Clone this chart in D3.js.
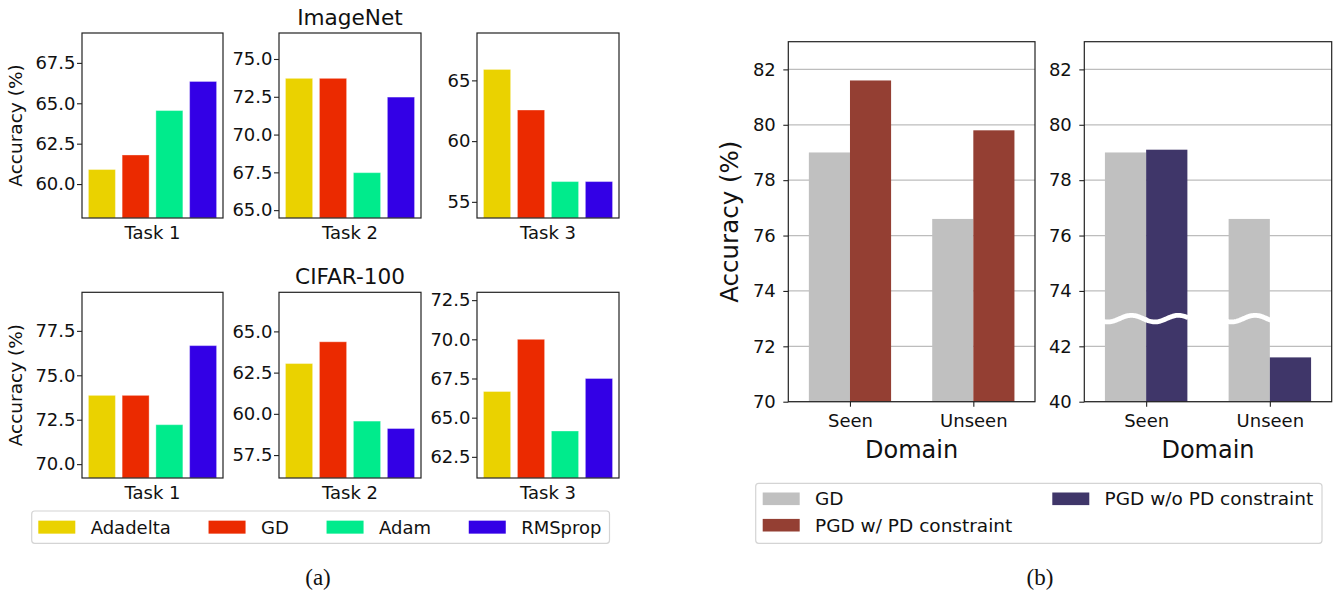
<!DOCTYPE html>
<html><head><meta charset="utf-8">
<script src="https://cdn.jsdelivr.net/npm/d3@7"></script>
<style>body{margin:0;background:#fff} svg{display:block} text{font-family:"DejaVu Sans",sans-serif;fill:#111}</style>
</head><body><svg id="c" width="1343" height="597"></svg>
<script>
// ---------- data (a) ----------
const optimizers = ["Adadelta","GD","Adam","RMSprop"];
const optColors = ["#EAD200","#EB2A00","#00EB8C","#3300E6"];
const tasks = ["Task 1","Task 2","Task 3"];
const datasets = ["ImageNet","CIFAR-100"];
const imagenetAcc = [[60.9,61.8,64.55,66.35],[73.72,73.72,67.48,72.48],[65.9,62.56,56.67,56.67]];
const cifarAcc = [[73.87,73.87,72.22,76.67],[63.05,64.37,59.56,59.11],[66.67,70.0,64.15,67.5]];
const imagenetTicks = [[60,62.5,65,67.5],[65,67.5,70,72.5,75],[55,60,65]];
const cifarTicks = [[70,72.5,75,77.5],[57.5,60,62.5,65],[62.5,65,67.5,70,72.5]];
const imagenetTickFmt = [".1f",".1f","d"];
const cifarTickFmt = [".1f",".1f",".1f"];
// ---------- data (b) ----------
const domains = ["Seen","Unseen"];
const methods = ["GD","PGD w/ PD constraint","PGD w/o PD constraint"];
const methodColors = ["#c0c0c0","#943f33","#3f3669"];
const gdAcc = [79.0, 76.6];
const pgdWithAcc = [81.6, 79.8];
const pgdWithoutAcc = [79.1, 41.6];
const panel1Ticks = [70,72,74,76,78,80,82];
const panel2Ticks = [40,42,74,76,78,80,82];

const svg = d3.select("#c");

// ---------- layout ----------
const colX = [[82,223],[279,421],[477,619]];
const rowY = [[33,218],[292.3,478]];

function smallPanel(x0,x1,y0,y1,vals,ticks,fmt,label){
  const g = svg.append("g");
  const x = d3.scaleLinear([-0.59,3.59],[x0,x1]);
  const y = d3.scaleLinear([d3.min(vals)-3, d3.max(vals)+3],[y1,y0]);
  g.selectAll("rect.bar").data(vals).join("rect")
    .attr("x",(d,i)=>x(i-0.4)).attr("width",x(0.4)-x(-0.4))
    .attr("y",d=>y(d)).attr("height",d=>y1-y(d))
    .attr("fill",(d,i)=>optColors[i])
    .attr("stroke","#fff").attr("stroke-opacity",0.35).attr("stroke-width",1);
  const ax = g.append("g").attr("transform",`translate(${x0},0)`)
    .call(d3.axisLeft(y).tickValues(ticks).tickFormat(d3.format(fmt)).tickSize(5).tickPadding(1.5));
  ax.select(".domain").remove();
  ax.selectAll("line").attr("stroke","#222").attr("stroke-width",1.1);
  ax.selectAll("text").style("font-size","18px").attr("fill","#111");
  g.append("rect").attr("x",x0).attr("y",y0).attr("width",x1-x0).attr("height",y1-y0)
    .attr("fill","none").attr("stroke","#222").attr("stroke-width",1.2);
  g.append("text").attr("x",(x0+x1)/2).attr("y",y1+20.5).attr("text-anchor","middle")
    .style("font-size","18px").text(label);
}

[imagenetAcc, cifarAcc].forEach((acc,r)=>{
  const tk = r===0?imagenetTicks:cifarTicks;
  const fm = r===0?imagenetTickFmt:cifarTickFmt;
  tasks.forEach((t,c)=>{
    smallPanel(colX[c][0],colX[c][1],rowY[r][0],rowY[r][1],acc[c],tk[c],fm[c],t);
  });
  svg.append("text").attr("x",(colX[1][0]+colX[1][1])/2).attr("y",rowY[r][0]-8.5)
    .attr("text-anchor","middle").style("font-size","21.6px").text(datasets[r]);
  svg.append("text").attr("transform",`translate(22,${(rowY[r][0]+rowY[r][1])/2}) rotate(-90)`)
    .attr("text-anchor","middle").style("font-size","18.5px").text("Accuracy (%)");
});

// legend (a)
(function(){
  const bx0=31.7, by0=511, bh=32.3, cy=by0+bh/2;
  const lg = svg.append("g");
  const box = lg.append("rect").attr("x",bx0).attr("y",by0).attr("height",bh).attr("rx",3)
    .attr("fill","#fff").attr("stroke","#d4d4d4").attr("stroke-width",1.2);
  let cx = bx0+6.6;
  optimizers.forEach((name,i)=>{
    lg.append("rect").attr("x",cx).attr("y",cy-6.5).attr("width",37).attr("height",13).attr("fill",optColors[i]);
    const t = lg.append("text").attr("x",cx+52.4).attr("y",cy+6.5).style("font-size","18px").text(name);
    const w = t.node().getComputedTextLength();
    cx = cx+52.4+w+(i<optimizers.length-1?37.8:8);
  });
  box.attr("width",cx-bx0);
})();

// ---------- (b) ----------
const bY0=41.7, bY1=401.7;
const bX = [[788.3,1035],[1084.3,1331.7]];
const yL = d3.scaleLinear([70,83],[bY1,bY0]);
const breakVal = 73, lowerTop = 43;
const yR = d3.scaleLinear([40,lowerTop,breakVal,83],[yL(70),yL(breakVal),yL(breakVal),yL(83)]);

function bigPanel(x0,x1,y,ticks,series,colors,broken){
  const g = svg.append("g");
  const x = d3.scaleLinear([-0.5,1.5],[x0,x1]);
  g.selectAll("line.grid").data(ticks).join("line")
    .attr("x1",x0).attr("x2",x1).attr("y1",d=>y(d)).attr("y2",d=>y(d))
    .attr("stroke","#bdbdbd").attr("stroke-width",1.2);
  series.forEach((vals,j)=>{
    g.selectAll(null).data(vals).join("rect")
      .attr("x",(d,i)=>x(i-1/3+j/3)).attr("width",x(1/3)-x(0))
      .attr("y",d=>y(d))
      .attr("height",d=>bY1-y(d))
      .attr("fill",colors[j]);
  });
  if(broken){
    const yc = y(breakVal), P=47, A=3.3;
    series.forEach((vals,j)=>{
      vals.forEach((v,i)=>{
        if(v<breakVal) return;
        const gl = x(i-1/3), l=x(i-1/3+j/3), r=x(i+j/3);
        const pts = d3.range(l-1,r+1.01,1).map(px=>[px, yc - A*Math.cos(2*Math.PI*(px-(gl+26.5))/P)]);
        g.append("path").attr("d",d3.line()(pts)).attr("fill","none")
          .attr("stroke","#fff").attr("stroke-width",4.8);
      });
    });
  }
  const ay = g.append("g").attr("transform",`translate(${x0},0)`)
    .call(d3.axisLeft(y).tickValues(ticks).tickFormat(d3.format("d")).tickSize(5).tickPadding(7.5));
  ay.select(".domain").remove();
  ay.selectAll("line").attr("stroke","#222").attr("stroke-width",1.1);
  ay.selectAll("text").style("font-size","18px").attr("fill","#111");
  const axb = g.append("g").attr("transform",`translate(0,${bY1})`)
    .call(d3.axisBottom(x).tickValues([0,1]).tickFormat(i=>domains[i]).tickSize(5).tickPadding(8));
  axb.select(".domain").remove();
  axb.selectAll("line").attr("stroke","#222").attr("stroke-width",1.1);
  axb.selectAll("text").style("font-size","18px").attr("fill","#111");
  g.append("rect").attr("x",x0).attr("y",bY0).attr("width",x1-x0).attr("height",bY1-bY0)
    .attr("fill","none").attr("stroke","#222").attr("stroke-width",1.2);
  g.append("text").attr("x",(x0+x1)/2).attr("y",458).attr("text-anchor","middle")
    .style("font-size","24px").text("Domain");
}
bigPanel(bX[0][0],bX[0][1],yL,panel1Ticks,[gdAcc,pgdWithAcc],[methodColors[0],methodColors[1]],false);
bigPanel(bX[1][0],bX[1][1],yR,panel2Ticks,[gdAcc,pgdWithoutAcc],[methodColors[0],methodColors[2]],true);
svg.append("text").attr("transform",`translate(738,${(bY0+bY1)/2}) rotate(-90)`)
  .attr("text-anchor","middle").style("font-size","24.5px").text("Accuracy (%)");

// legend (b)
(function(){
  const bx0=755.7, by0=483.3, bx1=1322, by1=543.3;
  const lg = svg.append("g");
  lg.append("rect").attr("x",bx0).attr("y",by0).attr("width",bx1-bx0).attr("height",by1-by0).attr("rx",3)
    .attr("fill","#fff").attr("stroke","#d4d4d4").attr("stroke-width",1.2);
  const rows=[498.8,525.2];
  const items=[{c:0,r:0,m:0},{c:0,r:1,m:1},{c:1,r:0,m:2}];
  const colStart=[762.7,1052.3];
  items.forEach(it=>{
    lg.append("rect").attr("x",colStart[it.c]).attr("y",rows[it.r]-6.3).attr("width",37).attr("height",12.6).attr("fill",methodColors[it.m]);
    lg.append("text").attr("x",colStart[it.c]+52.3).attr("y",rows[it.r]+6.3).style("font-size","18.5px").text(methods[it.m]);
  });
})();

// captions
svg.append("text").attr("x",318).attr("y",585).attr("text-anchor","middle")
  .style("font-family","'Liberation Serif',serif").style("font-size","23px").text("(a)");
svg.append("text").attr("x",1040).attr("y",585).attr("text-anchor","middle")
  .style("font-family","'Liberation Serif',serif").style("font-size","23px").text("(b)");
</script></body></html>
